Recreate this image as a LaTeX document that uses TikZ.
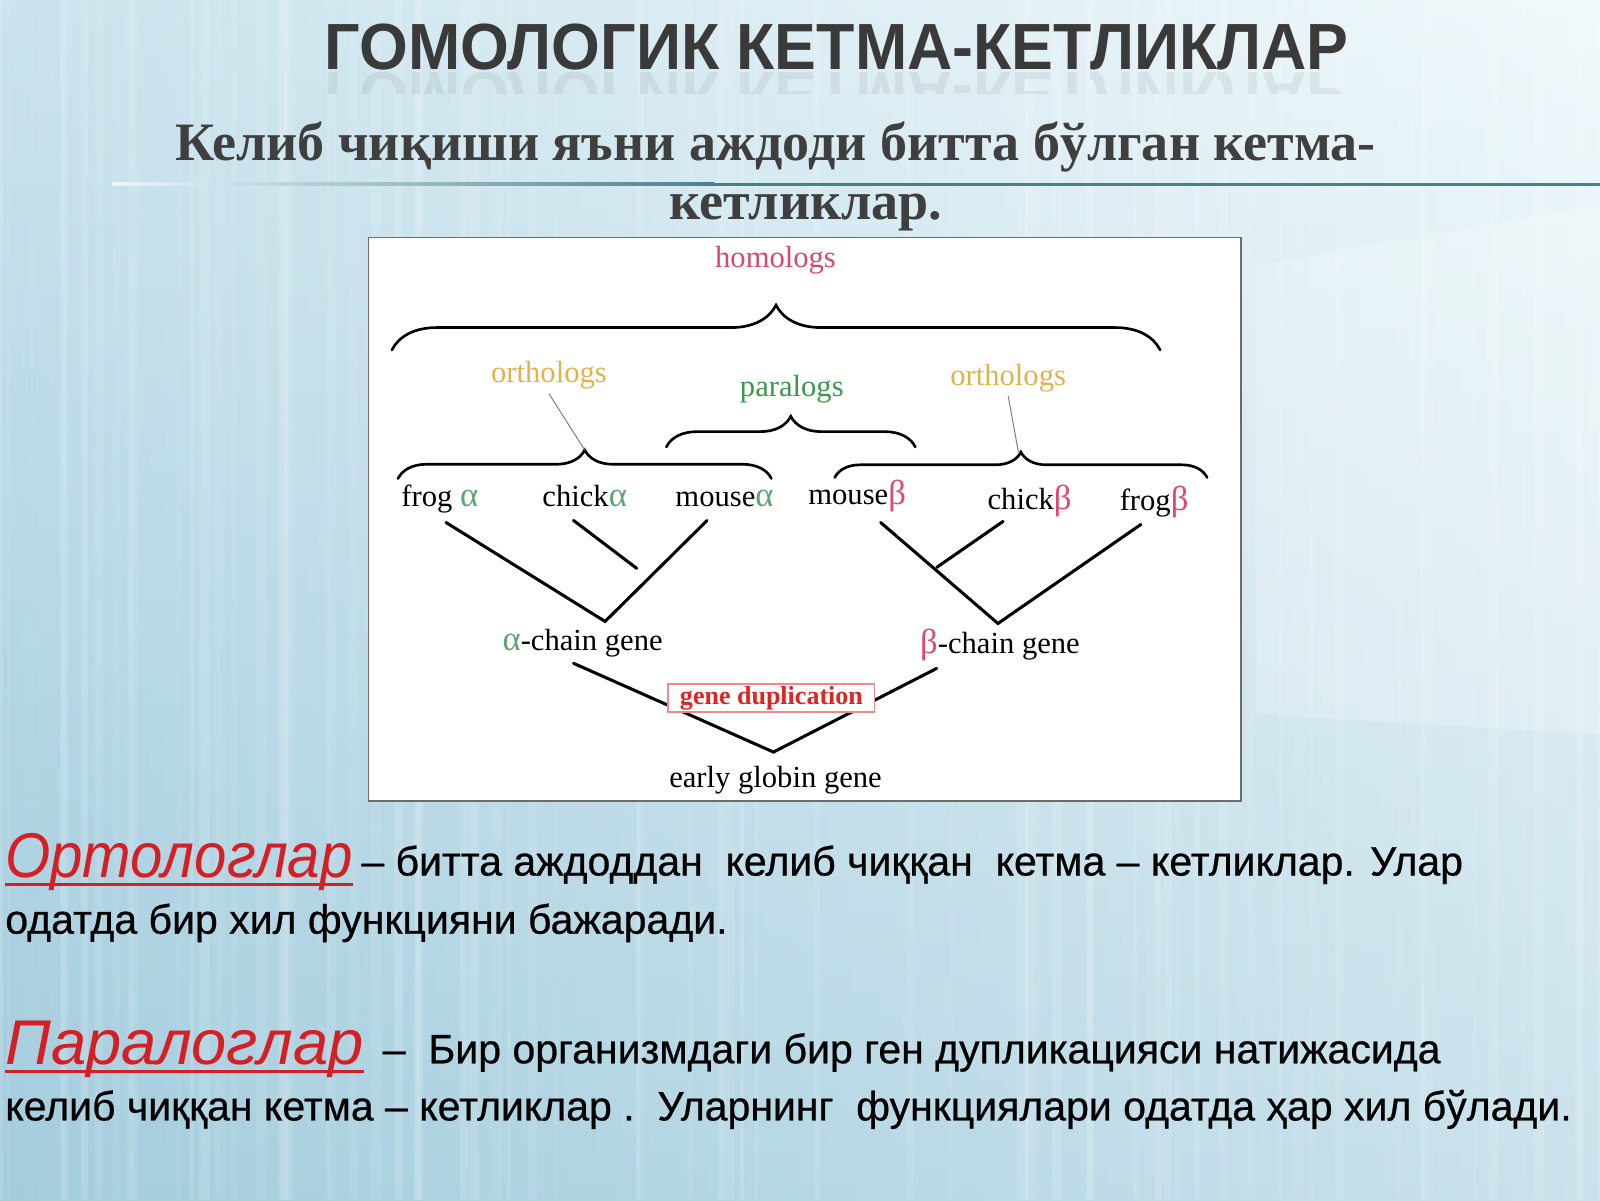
\documentclass[tikz,border=0pt]{standalone}
\usepackage{fontspec}
\setmainfont{Liberation Serif}
\newfontfamily\titlefont[FakeStretch=0.96]{Liberation Sans}
\newfontfamily\bodyfont[FakeBold=0.6]{Liberation Sans}
\newfontfamily\orthofont[FakeStretch=0.92]{Liberation Sans}
\newfontfamily\parafont{Liberation Sans}
\usetikzlibrary{decorations.pathreplacing}
\definecolor{homred}{HTML}{D8486A}
\definecolor{orthgold}{HTML}{E2B24A}
\definecolor{paragreen}{HTML}{3C9A4A}
\definecolor{agreen}{HTML}{5FA474}
\definecolor{bred}{HTML}{E04870}
\definecolor{dupred}{HTML}{E02424}
\definecolor{dupborder}{HTML}{F08A8A}
\definecolor{titlegray}{HTML}{3A3A3A}
\definecolor{subgray}{HTML}{3F3F3F}
\definecolor{wordred}{HTML}{D41F24}
\definecolor{bgtop}{HTML}{EAF6FA}
\definecolor{bgbot}{HTML}{AED3E2}
\definecolor{bgleft}{HTML}{8FC0D4}
\definecolor{ruleteal}{HTML}{4A8189}
\begin{document}
\begin{tikzpicture}[x=1pt,y=-1pt,
  lbl/.style={inner sep=0pt, font=\fontsize{30}{30}\selectfont},
  bracedraw/.style={decorate, decoration={brace, amplitude=#1}, line width=2.6pt, line cap=round},
  tree/.style={line width=3pt, line cap=round},
  body/.style={inner sep=0pt, anchor=base west, font=\bodyfont\fontsize{40.2}{40.2}\selectfont},
  redword/.style={inner sep=0pt, anchor=base west, text=wordred, font=\itshape\fontsize{62}{62}\selectfont}]
% ---------- background ----------
\useasboundingbox (0,0) rectangle (1568,1176);
\shade[top color=bgtop, bottom color=bgbot] (0,0) rectangle (1568,1176);
\shade[left color=bgleft, right color=white, opacity=0.35] (0,0) rectangle (1568,1176);
\fill[white, opacity=0.22] (1230,260) -- (1568,200) -- (1568,720) -- (1230,700) -- cycle;
\pgfmathsetseed{7}
\foreach \i in {1,...,80}{
  \pgfmathsetmacro\xx{rnd*1568}
  \pgfmathsetmacro\ww{2+rnd*9}
  \pgfmathsetmacro\oo{0.05+rnd*0.1}
  \fill[white, opacity=\oo] (\xx,0) rectangle ++(\ww,1176);
}
% ---------- title ----------
\node[inner sep=0pt, anchor=base, text=titlegray, font=\titlefont\bfseries\fontsize{64}{64}\selectfont] (title) at (820,68) {ГОМОЛОГИК КЕТМА-КЕТЛИКЛАР};
\begin{scope}
  \clip (300,71) rectangle (1340,92);
  \node[inner sep=0pt, anchor=base, text=titlegray, opacity=0.08, yscale=-1, transform shape, font=\titlefont\bfseries\fontsize{64}{64}\selectfont] (titlerefl) at (820,71) {ГОМОЛОГИК КЕТМА-КЕТЛИКЛАР};
\end{scope}
% ---------- rule ----------
\shade[left color=bgtop, right color=ruleteal] (110,179) rectangle (700,182);
\fill[ruleteal] (700,179) rectangle (1568,182);
% ---------- subtitle ----------
\node[inner sep=0pt, anchor=base, text=subgray, font=\bfseries\fontsize{53}{53}\selectfont] (sub1) at (760,157) {Келиб чиқиши яъни аждоди битта бўлган кетма-};
\node[inner sep=0pt, anchor=base, text=subgray, font=\bfseries\fontsize{53}{53}\selectfont] (sub2) at (790,215) {кетликлар.};
% ---------- diagram frame ----------
\node[draw=gray!85!black, line width=1.4pt, fill=white, inner sep=0pt, minimum width=855pt, minimum height=552pt] (frame) at (788.5,509) {};
% ---------- labels ----------
\node[lbl, text=homred] (hom) at (760,255) {homologs};
\node[lbl, text=orthgold] (orthL) at (538,368) {orthologs};
\node[lbl, text=paragreen] (para) at (776,381) {paralogs};
\node[lbl, text=orthgold] (orthR) at (988,371) {orthologs};
% ---------- braces ----------
\coordinate (homL) at (384,343);
\coordinate (homR) at (1137,343);
\draw[bracedraw=44pt] (homL) -- (homR);
\coordinate (oLl) at (390,469);
\coordinate (oLr) at (756,469);
\draw[bracedraw=28pt] (oLl) -- (oLr);
\coordinate (pl) at (653,438);
\coordinate (pr) at (897,438);
\draw[bracedraw=30pt] (pl) -- (pr);
\coordinate (oRl) at (818,468);
\coordinate (oRr) at (1183,468);
\draw[bracedraw=25pt] (oRl) -- (oRr);
% pointer lines
\coordinate (oLtip) at (573,441);
\coordinate (oRtip) at (998,443);
\draw[gray, line width=1pt] ([yshift=-4pt]orthL.south) -- (oLtip);
\draw[gray, line width=1pt] ([yshift=-3pt]orthR.south) -- (oRtip);
% ---------- leaves ----------
\node[lbl, anchor=base] (frogA) at (431,496) {frog \textcolor{agreen}{\fontsize{34}{34}\selectfont α}};
\node[lbl, anchor=base] (chickA) at (573,496) {chick\textcolor{agreen}{\fontsize{34}{34}\selectfont α}};
\node[lbl, anchor=base] (mouseA) at (710,496) {mouse\textcolor{agreen}{\fontsize{34}{34}\selectfont α}};
\node[lbl, anchor=base] (mouseB) at (840,494) {mouse\textcolor{bred}{\fontsize{34}{34}\selectfont β}};
\node[lbl, anchor=base] (chickB) at (1009,499) {chick\textcolor{bred}{\fontsize{34}{34}\selectfont β}};
\node[lbl, anchor=base] (frogB) at (1131,500) {frog\textcolor{bred}{\fontsize{34}{34}\selectfont β}};
% ---------- trees ----------
\coordinate (faT) at (437,512);
\coordinate (caT) at (562,510);
\coordinate (maT) at (693,510);
\coordinate (mbT) at (863,512);
\coordinate (cbT) at (983,511);
\coordinate (fbT) at (1118,514);
\coordinate (aJoin) at (624,557);
\coordinate (aRoot) at (593,609);
\coordinate (bJoin) at (918,556);
\coordinate (bRoot) at (978,611);
\draw[tree] (faT) -- (aRoot) -- (maT);
\draw[tree] (caT) -- (aJoin);
\draw[tree] (mbT) -- (bRoot) -- (fbT);
\draw[tree] (cbT) -- (bJoin);
\node[lbl, anchor=base] (aChain) at (571,637) {\textcolor{agreen}{\fontsize{34}{34}\selectfont α}-chain gene};
\node[lbl, anchor=base] (bChain) at (980,640) {\textcolor{bred}{\fontsize{34}{34}\selectfont β}-chain gene};
\coordinate (aLow) at (562,650);
\coordinate (bLow) at (918,655);
\coordinate (gRoot) at (758,737);
\draw[tree] (aLow) -- (gRoot) -- (bLow);
\node[draw=dupborder, line width=1.8pt, fill=white, text=dupred, inner sep=0pt, minimum width=202pt, minimum height=28pt, font=\bfseries\fontsize{25.5}{25.5}\selectfont] (dup) at (756,684) {gene duplication};
\node[lbl, anchor=base] (early) at (760,772) {early globin gene};
% ---------- bottom text ----------
\node[redword, font=\orthofont\itshape\fontsize{62}{62}\selectfont] (orthoWord) at (5,860) {Ортологлар};
\draw[wordred, line width=2.6pt] ([yshift=-7pt]orthoWord.base west) -- ([yshift=-7pt]orthoWord.base east);
\node[body] (orthoDef) at (354,858) {– битта аждоддан\ \ келиб чиққан\ \ кетма – кетликлар. Улар};
\node[body] (orthoDef2) at (5,915) {одатда бир хил функцияни бажаради.};
\node[redword, font=\parafont\itshape\fontsize{62}{62}\selectfont] (paraWord) at (5,1043) {Паралоглар\ };
\draw[wordred, line width=2.6pt] ([yshift=-7pt]paraWord.base west) -- ([yshift=-7pt]paraWord.base east);
\node[body] (paraDef) at (375,1042) {–\ \ Бир организмдаги бир ген дупликацияси натижасида};
\node[body] (paraDef2) at (5,1098) {келиб чиққан кетма – кетликлар .\ \ Уларнинг\ \ функциялари одатда ҳар хил бўлади.};
\end{tikzpicture}
\end{document}
